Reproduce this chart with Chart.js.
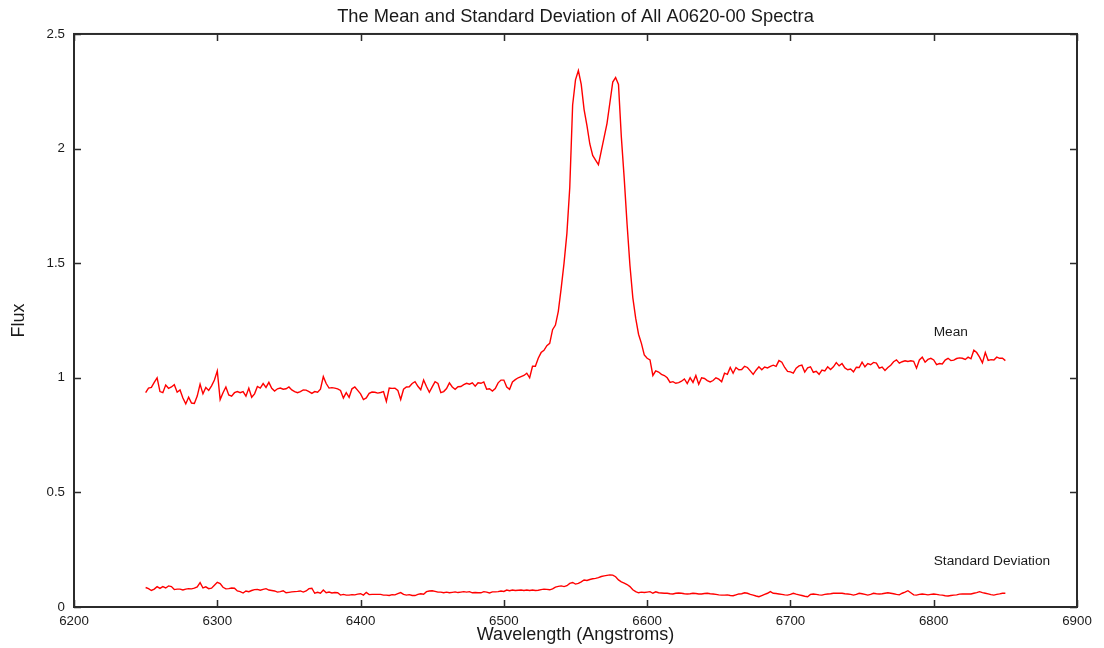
<!DOCTYPE html>
<html>
<head>
<meta charset="utf-8">
<script src="https://cdn.jsdelivr.net/npm/chart.js@4.4.1/dist/chart.umd.min.js"></script>
<style>
html,body{margin:0;padding:0;background:#fff;}
#wrap{width:1104px;height:648px;}
</style>
</head>
<body>
<div id="wrap"><canvas id="c" width="1104" height="648"></canvas></div>
<script>
// ---- data ----
const chartTitle = 'The Mean and Standard Deviation of All A0620-00 Spectra';
const xTitle = 'Wavelength (Angstroms)';
const yTitle = 'Flux';
const seriesNames = ['Mean', 'Standard Deviation'];
const seriesLabelAnchorX = [6800, 6800];
const seriesLabelAnchorY = [1.2, 0.2];

const wavelengths = [
6250,6252,6254,6256,6258,6260,6262,6264,6266,6268,
6270,6272,6274,6276,6278,6280,6282,6284,6286,6288,
6290,6292,6294,6296,6298,6300,6302,6304,6306,6308,
6310,6312,6314,6316,6318,6320,6322,6324,6326,6328,
6330,6332,6334,6336,6338,6340,6342,6344,6346,6348,
6350,6352,6354,6356,6358,6360,6362,6364,6366,6368,
6370,6372,6374,6376,6378,6380,6382,6384,6386,6388,
6390,6392,6394,6396,6398,6400,6402,6404,6406,6408,
6410,6412,6414,6416,6418,6420,6422,6424,6426,6428,
6430,6432,6434,6436,6438,6440,6442,6444,6446,6448,
6450,6452,6454,6456,6458,6460,6462,6464,6466,6468,
6470,6472,6474,6476,6478,6480,6482,6484,6486,6488,
6490,6492,6494,6496,6498,6500,6502,6504,6506,6508,
6510,6512,6514,6516,6518,6520,6522,6524,6526,6528,
6530,6532,6534,6536,6538,6540,6542,6544,6546,6548,
6550,6552,6554,6556,6558,6560,6562,6564,6566,6568,
6570,6572,6574,6576,6578,6580,6582,6584,6586,6588,
6590,6592,6594,6596,6598,6600,6602,6604,6606,6608,
6610,6612,6614,6616,6618,6620,6622,6624,6626,6628,
6630,6632,6634,6636,6638,6640,6642,6644,6646,6648,
6650,6652,6654,6656,6658,6660,6662,6664,6666,6668,
6670,6672,6674,6676,6678,6680,6682,6684,6686,6688,
6690,6692,6694,6696,6698,6700,6702,6704,6706,6708,
6710,6712,6714,6716,6718,6720,6722,6724,6726,6728,
6730,6732,6734,6736,6738,6740,6742,6744,6746,6748,
6750,6752,6754,6756,6758,6760,6762,6764,6766,6768,
6770,6772,6774,6776,6778,6780,6782,6784,6786,6788,
6790,6792,6794,6796,6798,6800,6802,6804,6806,6808,
6810,6812,6814,6816,6818,6820,6822,6824,6826,6828,
6830,6832,6834,6836,6838,6840,6842,6844,6846,6848,
6850];

const meanFlux = [
0.935,0.955,0.958,0.98,1.0,0.94,0.935,0.968,0.954,0.96,
0.97,0.937,0.947,0.912,0.886,0.915,0.89,0.888,0.92,0.972,
0.93,0.958,0.945,0.965,0.99,1.03,0.905,0.935,0.96,0.925,
0.92,0.935,0.94,0.935,0.94,0.92,0.955,0.915,0.93,0.962,
0.955,0.975,0.958,0.98,0.954,0.942,0.952,0.955,0.95,0.952,
0.96,0.947,0.94,0.935,0.94,0.947,0.946,0.94,0.932,0.94,
0.937,0.95,1.005,0.975,0.955,0.957,0.955,0.952,0.945,0.912,
0.935,0.915,0.952,0.96,0.945,0.93,0.905,0.912,0.932,0.938,
0.937,0.933,0.936,0.94,0.897,0.955,0.954,0.955,0.945,0.905,
0.95,0.96,0.961,0.975,0.983,0.963,0.948,0.99,0.962,0.937,
0.96,0.983,0.975,0.935,0.94,0.953,0.978,0.96,0.95,0.961,
0.962,0.97,0.976,0.972,0.978,0.963,0.978,0.976,0.982,0.95,
0.952,0.942,0.953,0.978,0.99,0.99,0.96,0.95,0.982,0.992,
1.0,1.005,1.01,1.02,1.0,1.05,1.05,1.085,1.11,1.12,
1.14,1.15,1.21,1.23,1.29,1.39,1.5,1.63,1.83,2.19,
2.3,2.34,2.28,2.17,2.1,2.02,1.97,1.95,1.93,1.99,
2.05,2.11,2.2,2.29,2.31,2.28,2.05,1.87,1.67,1.49,
1.35,1.26,1.19,1.15,1.1,1.085,1.078,1.01,1.03,1.025,
1.015,1.01,1.0,0.98,0.983,0.976,0.979,0.985,0.995,0.975,
1.0,0.98,1.01,0.972,1.0,0.997,0.988,0.982,0.988,1.0,
0.994,0.983,1.02,1.015,1.045,1.02,1.045,1.035,1.036,1.05,
1.045,1.03,1.015,1.033,1.048,1.035,1.047,1.043,1.05,1.055,
1.05,1.075,1.068,1.045,1.028,1.026,1.02,1.042,1.052,1.055,
1.025,1.043,1.048,1.024,1.028,1.015,1.034,1.03,1.048,1.036,
1.048,1.066,1.052,1.062,1.043,1.035,1.038,1.026,1.046,1.045,
1.068,1.048,1.062,1.057,1.067,1.064,1.042,1.047,1.032,1.045,
1.055,1.07,1.078,1.064,1.07,1.074,1.071,1.074,1.072,1.042,
1.078,1.09,1.068,1.08,1.085,1.078,1.057,1.062,1.06,1.077,
1.085,1.075,1.077,1.084,1.087,1.085,1.08,1.09,1.083,1.12,
1.11,1.09,1.065,1.11,1.076,1.079,1.078,1.09,1.085,1.085,
1.075];

const stdDevFlux = [
0.085,0.08,0.072,0.078,0.089,0.081,0.089,0.083,0.092,0.089,
0.076,0.078,0.078,0.074,0.078,0.08,0.079,0.082,0.088,0.106,
0.083,0.088,0.08,0.082,0.095,0.108,0.102,0.086,0.079,0.08,
0.083,0.082,0.07,0.067,0.061,0.07,0.067,0.072,0.076,0.077,
0.073,0.077,0.08,0.074,0.072,0.07,0.065,0.067,0.071,0.062,
0.064,0.066,0.067,0.068,0.07,0.065,0.07,0.08,0.082,0.06,
0.064,0.06,0.074,0.062,0.065,0.061,0.063,0.062,0.052,0.055,
0.052,0.052,0.054,0.053,0.056,0.058,0.052,0.064,0.054,0.055,
0.055,0.055,0.055,0.052,0.052,0.05,0.054,0.053,0.058,0.063,
0.055,0.052,0.054,0.05,0.05,0.055,0.058,0.056,0.067,0.07,
0.071,0.068,0.065,0.065,0.062,0.065,0.062,0.064,0.066,0.063,
0.065,0.067,0.065,0.067,0.062,0.063,0.062,0.062,0.067,0.065,
0.061,0.066,0.066,0.067,0.07,0.068,0.074,0.071,0.074,0.072,
0.073,0.074,0.072,0.074,0.072,0.074,0.072,0.073,0.076,0.078,
0.077,0.075,0.079,0.087,0.09,0.092,0.089,0.093,0.103,0.107,
0.1,0.103,0.11,0.118,0.116,0.12,0.123,0.125,0.128,0.133,
0.136,0.138,0.14,0.139,0.132,0.118,0.11,0.104,0.098,0.089,
0.075,0.067,0.062,0.065,0.063,0.065,0.067,0.06,0.066,0.062,
0.061,0.06,0.06,0.058,0.057,0.06,0.061,0.06,0.058,0.057,
0.058,0.06,0.059,0.057,0.057,0.059,0.06,0.058,0.057,0.055,
0.053,0.052,0.052,0.053,0.05,0.049,0.053,0.057,0.058,0.062,
0.06,0.055,0.052,0.048,0.045,0.05,0.055,0.06,0.067,0.06,
0.059,0.057,0.055,0.053,0.052,0.055,0.06,0.056,0.053,0.05,
0.047,0.045,0.055,0.057,0.055,0.053,0.052,0.055,0.057,0.058,
0.06,0.06,0.06,0.06,0.058,0.057,0.055,0.052,0.055,0.06,
0.058,0.055,0.052,0.055,0.06,0.058,0.057,0.058,0.06,0.062,
0.06,0.058,0.055,0.053,0.06,0.065,0.071,0.062,0.053,0.052,
0.055,0.057,0.055,0.053,0.055,0.057,0.055,0.053,0.052,0.049,
0.048,0.05,0.052,0.053,0.056,0.057,0.057,0.057,0.057,0.06,
0.063,0.067,0.063,0.06,0.057,0.054,0.052,0.055,0.057,0.06,
0.06];

// ---- chart ----
const FONT = '"Liberation Sans", Arial, Helvetica, sans-serif';
const INK = '#1a1a1a';

const framePlugin = {
  id: 'frameTicks',
  afterDatasetsDraw(chart) {
    const {ctx, chartArea: a, scales: {x, y}} = chart;
    ctx.save();
    ctx.strokeStyle = '#2b2b2b';
    ctx.lineWidth = 1.5;
    const L = 7;
    ctx.beginPath();
    x.ticks.forEach(t => {
      const px = Math.round(x.getPixelForValue(t.value)) + 0.5;
      ctx.moveTo(px, a.bottom); ctx.lineTo(px, a.bottom - L);
      ctx.moveTo(px, a.top); ctx.lineTo(px, a.top + L);
    });
    y.ticks.forEach(t => {
      const py = Math.round(y.getPixelForValue(t.value)) + 0.5;
      ctx.moveTo(a.left, py); ctx.lineTo(a.left + L, py);
      ctx.moveTo(a.right, py); ctx.lineTo(a.right - L, py);
    });
    ctx.stroke();
    ctx.lineWidth = 2;
    ctx.strokeRect(a.left, a.top, a.right - a.left, a.bottom - a.top);
    // series labels
    ctx.fillStyle = INK;
    ctx.font = '13.7px ' + FONT;
    ctx.textAlign = 'left';
    ctx.textBaseline = 'middle';
    seriesNames.forEach((n, i) => {
      ctx.fillText(n, x.getPixelForValue(seriesLabelAnchorX[i]), y.getPixelForValue(seriesLabelAnchorY[i]));
    });
    ctx.restore();
  }
};

new Chart(document.getElementById('c'), {
  type: 'line',
  data: {
    datasets: [
      {
        label: seriesNames[0],
        data: wavelengths.map((w, i) => ({x: w, y: meanFlux[i]})),
        borderColor: '#ff0000', borderWidth: 1.4, pointRadius: 0, tension: 0, fill: false
      },
      {
        label: seriesNames[1],
        data: wavelengths.map((w, i) => ({x: w, y: stdDevFlux[i]})),
        borderColor: '#ff0000', borderWidth: 1.4, pointRadius: 0, tension: 0, fill: false
      }
    ]
  },
  options: {
    responsive: false,
    animation: false,
    devicePixelRatio: 1,
    layout: {padding: {left: 0, right: 27, top: 0, bottom: 0}},
    plugins: {
      legend: {display: false},
      tooltip: {enabled: false},
      title: {
        display: true, text: chartTitle, fullSize: false, color: INK,
        font: {family: FONT, size: 18.3, weight: 'normal'},
        padding: {top: 6, bottom: 6}
      }
    },
    scales: {
      x: {
        type: 'linear', min: 6200, max: 6900,
        grid: {display: false, drawTicks: false},
        border: {display: false},
        ticks: {stepSize: 100, color: INK, padding: 6, maxRotation: 0, font: {family: FONT, size: 13.3},
          callback: v => String(v)},
        title: {display: true, text: xTitle, color: INK, font: {family: FONT, size: 18}, padding: {top: 0, bottom: 2}},
        afterFit(s) { s.height = 41; }
      },
      y: {
        type: 'linear', min: 0, max: 2.5,
        grid: {display: false, drawTicks: false},
        border: {display: false},
        ticks: {stepSize: 0.5, color: INK, padding: 9, font: {family: FONT, size: 13.3},
          callback: v => String(v)},
        title: {display: true, text: yTitle, color: INK, font: {family: FONT, size: 18}, padding: {top: 8, bottom: 0}},
        afterFit(s) { s.width = 74; }
      }
    }
  },
  plugins: [framePlugin]
});
</script>
</body>
</html>
